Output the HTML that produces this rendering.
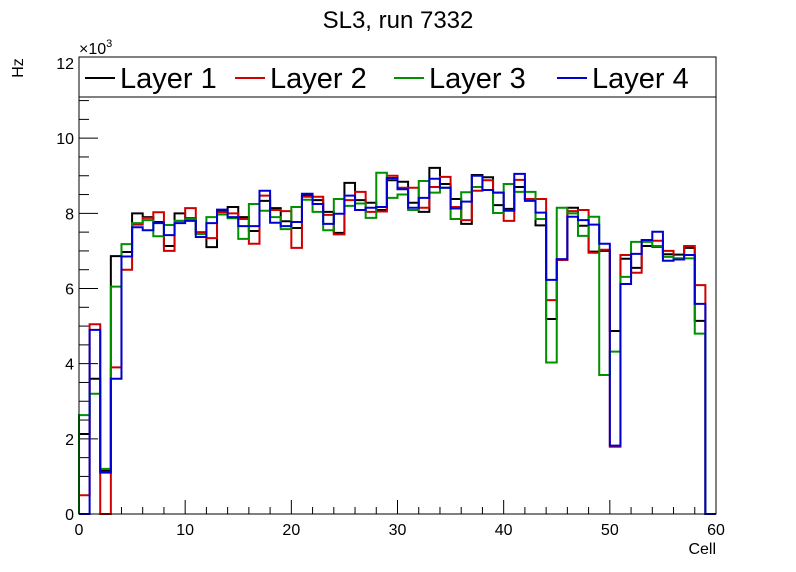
<!DOCTYPE html>
<html><head><meta charset="utf-8"><style>
body{margin:0;background:#fff;}
svg{display:block;font-family:"Liberation Sans",sans-serif;}
</style></head><body>
<svg id="chart" width="796" height="572" viewBox="0 0 796 572">
<rect width="796" height="572" fill="#fff"/>
<text x="398" y="28" font-size="24" text-anchor="middle">SL3, run 7332</text>
<text transform="translate(23,68) rotate(-90)" font-size="16" text-anchor="middle">Hz</text>
<text x="716" y="554" font-size="16" text-anchor="end">Cell</text>
<text x="79" y="54" font-size="16">×10<tspan font-size="11" dy="-7">3</tspan></text>
<g id="ticks"></g>
<g id="series"></g>
<rect x="79" y="63" width="637" height="451" fill="none" stroke="#000" stroke-width="1"/>
<g id="legend">
<rect x="79" y="57" width="637" height="40" fill="#fff" stroke="#000" stroke-width="1"/>
</g>
</svg>
<script>
const cells = Array.from({length:60},(_,i)=>i);
const layer1 = [2.13,3.6,1.15,6.86,6.97,8.0,7.9,7.77,7.13,8.0,7.87,7.47,7.1,8.05,8.17,7.9,7.53,8.33,8.14,7.79,7.61,8.48,8.35,8.04,7.48,8.81,8.35,8.28,8.09,8.88,8.84,8.28,8.04,9.21,8.78,8.38,7.72,9.02,8.96,8.22,8.12,8.7,8.38,7.68,5.19,6.76,8.15,7.67,6.98,7.0,4.87,6.79,6.55,7.13,7.11,6.91,6.9,7.08,5.14,0];
const layer2 = [0.5,5.05,0,3.9,6.5,7.7,7.88,8.03,7.0,7.8,8.14,7.5,7.34,8.03,8.0,7.85,7.19,8.47,8.09,8.06,7.08,8.44,8.44,7.96,7.44,8.35,8.57,8.04,8.05,9.0,8.68,8.68,8.15,8.7,8.97,8.17,7.82,8.6,8.88,8.55,7.8,8.89,8.38,8.38,5.69,6.76,8.06,8.09,6.95,7.03,1.79,6.89,6.42,7.27,7.27,7.0,6.8,7.13,6.09,0];
const layer3 = [2.63,3.2,1.2,6.05,7.18,7.74,7.82,7.39,7.69,7.8,7.85,7.45,7.9,7.97,7.87,7.32,8.25,8.07,7.9,7.58,8.17,8.36,8.04,7.55,8.38,8.2,8.26,7.88,9.08,8.41,8.5,8.09,8.86,8.55,8.68,7.85,8.56,8.7,8.62,8.01,8.78,8.57,8.57,7.85,4.03,8.15,8.0,7.4,7.91,3.7,4.32,6.31,7.24,7.24,7.13,6.84,6.8,6.8,4.8,0];
const layer4 = [0,4.9,1.1,3.6,6.85,7.63,7.55,7.74,7.42,7.74,7.8,7.37,7.74,8.1,7.9,7.66,7.66,8.6,7.75,7.66,7.77,8.52,8.25,7.72,7.99,8.47,8.09,8.15,8.17,8.94,8.64,8.15,8.41,8.92,8.68,8.13,8.31,9.0,8.62,8.55,8.07,9.05,8.33,8.02,6.23,6.78,7.91,7.82,7.7,7.19,1.82,6.12,6.92,7.29,7.51,6.74,6.77,6.89,5.59,0];
const seriesNames = ["Layer 1","Layer 2","Layer 3","Layer 4"];
const seriesColors = ["#000000","#d00000","#009000","#0000d0"];
const xTicks = [0,10,20,30,40,50,60];
const yTicks = [0,2,4,6,8,10,12];

const NS="http://www.w3.org/2000/svg";
const X0=79,X1=716,Y0=514,Y1=63,XMAX=60,YMAX=12;
const xs=v=>X0+(X1-X0)*v/XMAX;
const ys=v=>Y0-(Y0-Y1)*v/YMAX;
function mk(tag,attrs,parent){const e=document.createElementNS(NS,tag);for(const k in attrs)e.setAttribute(k,attrs[k]);parent.appendChild(e);return e;}

const tg=document.getElementById('ticks');
for(let v=0;v<=XMAX;v+=2){const major=v%10===0;
 const t=mk('line',{x1:xs(v),x2:xs(v),y1:Y0,y2:Y0-(major?14:7),stroke:'#000','stroke-width':1},tg);
 
 }
xTicks.forEach(v=>{const t=mk('text',{x:xs(v),y:Y0+21,'font-size':16,'text-anchor':'middle'},tg);t.textContent=v;
 
 });
for(let v=0;v<=YMAX+0.01;v+=0.5){const major=Math.abs(v%2)<0.01;
 const t=mk('line',{x1:X0,x2:X0+(major?19:10),y1:ys(v),y2:ys(v),stroke:'#000','stroke-width':1},tg);
 
 }
yTicks.forEach(v=>{const t=mk('text',{x:X0-5,y:ys(v)+6,'font-size':16,'text-anchor':'end'},tg);t.textContent=v;
 
 });

const sg=document.getElementById('series');
[layer1,layer2,layer3,layer4].forEach((data,si)=>{
 let d='M'+xs(0)+','+ys(0);
 cells.forEach((c,i)=>{d+=' L'+xs(c)+','+ys(data[i])+' L'+xs(c+1)+','+ys(data[i]);});
 d+=' L'+xs(60)+','+ys(0);
 const p=mk('path',{d:d,fill:'none',stroke:seriesColors[si],'stroke-width':2},sg);
 
 
});

const lg=document.getElementById('legend');
const lx=[85,235,394,557];
seriesNames.forEach((n,i)=>{
 const l=mk('line',{x1:lx[i],x2:lx[i]+30,y1:78,y2:78,stroke:seriesColors[i],'stroke-width':2},lg);
 
 
 const t=mk('text',{x:lx[i]+35,y:88,'font-size':29},lg);t.textContent=n;
 
 
});
</script>
</body></html>
